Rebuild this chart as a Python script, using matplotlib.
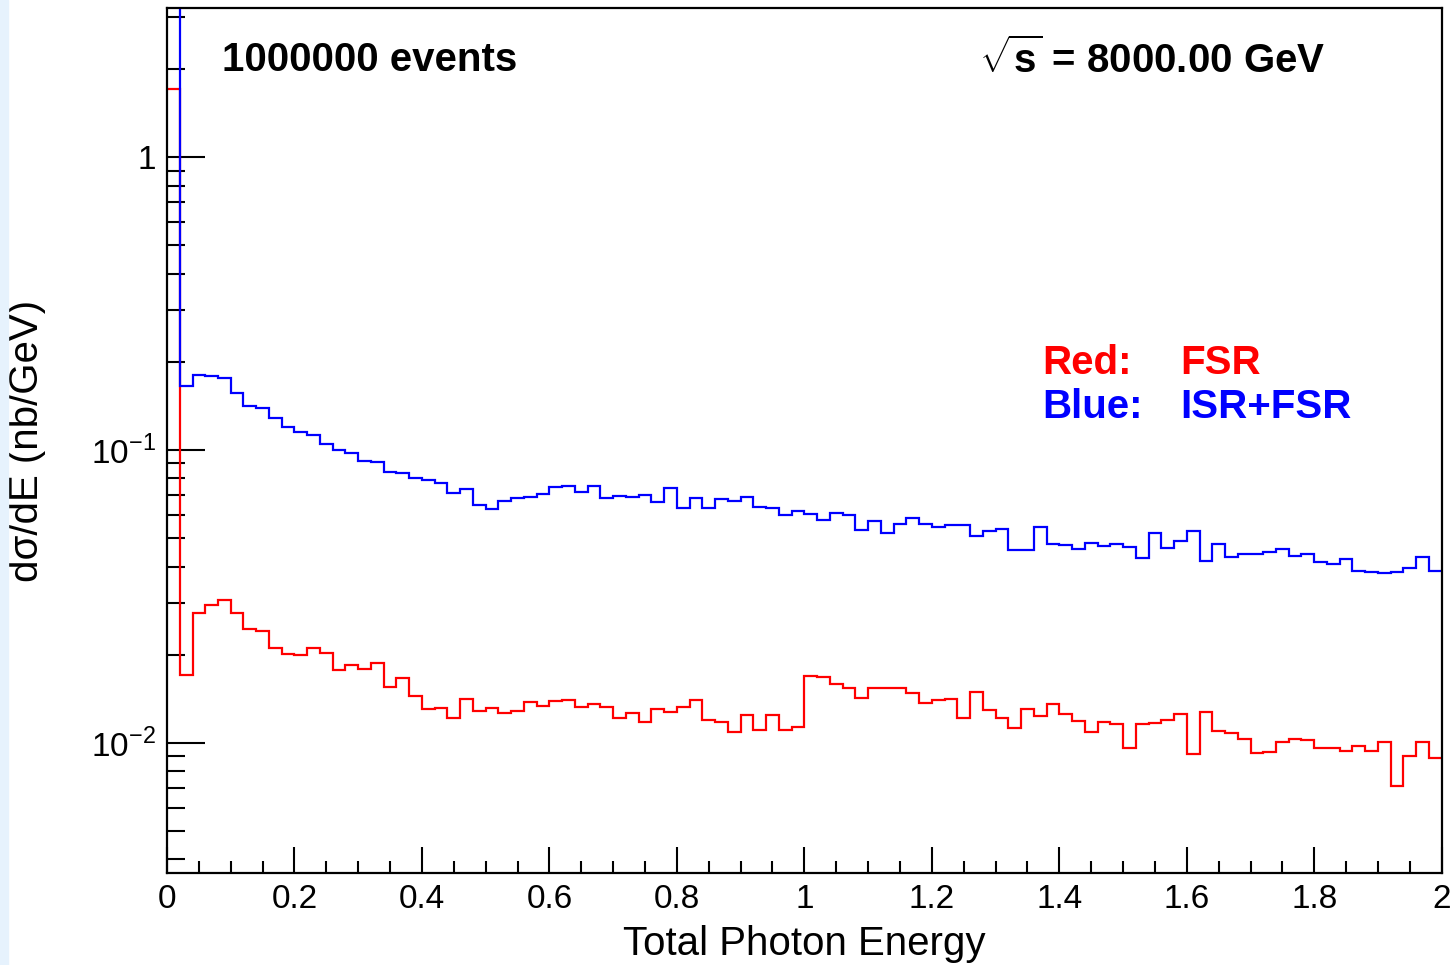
import numpy as np
import matplotlib
matplotlib.use('Agg')
import matplotlib.pyplot as plt
from matplotlib.patches import Rectangle
from matplotlib.ticker import FixedLocator, FuncFormatter, LogLocator, MultipleLocator

plt.rcParams['font.family'] = ['Liberation Sans', 'DejaVu Sans']
plt.rcParams['mathtext.fontset'] = 'custom'
plt.rcParams['mathtext.rm'] = 'Liberation Sans'
plt.rcParams['mathtext.bf'] = 'Liberation Sans:bold'

# 100 bins of 0.02 GeV between 0 and 2
edges = np.linspace(0.0, 2.0, 101)

# ISR+FSR (blue)
isr_fsr = [
    4.0, 0.1660, 0.1809, 0.1785, 0.1767, 0.1562, 0.1417, 0.1392, 0.1282, 0.1199,
    0.1155, 0.1128, 0.1051, 0.1002, 0.0977, 0.0919, 0.0907, 0.0838, 0.0832, 0.0800,
    0.0791, 0.0771, 0.0713, 0.0735, 0.0648, 0.0628, 0.0669, 0.0687, 0.0691, 0.0705,
    0.0747, 0.0753, 0.0720, 0.0756, 0.0687, 0.0698, 0.0692, 0.0700, 0.0664, 0.0743,
    0.0636, 0.0687, 0.0636, 0.0680, 0.0671, 0.0692, 0.0641, 0.0635, 0.0601, 0.0617,
    0.0604, 0.0577, 0.0609, 0.0599, 0.0535, 0.0572, 0.0522, 0.0560, 0.0587, 0.0560,
    0.0547, 0.0555, 0.0555, 0.0507, 0.0528, 0.0537, 0.0457, 0.0457, 0.0544, 0.0476,
    0.0473, 0.0460, 0.0483, 0.0469, 0.0479, 0.0467, 0.0429, 0.0519, 0.0461, 0.0490,
    0.0528, 0.0418, 0.0476, 0.0432, 0.0441, 0.0443, 0.0447, 0.0459, 0.0435, 0.0443,
    0.0413, 0.0407, 0.0423, 0.0387, 0.0383, 0.0380, 0.0384, 0.0396, 0.0432, 0.0387,
]

# FSR only (red)
fsr = [
    1.71, 0.0170, 0.0277, 0.0295, 0.0308, 0.0278, 0.0244, 0.0240, 0.0211, 0.0201,
    0.0200, 0.0211, 0.0202, 0.0177, 0.0184, 0.0179, 0.0187, 0.0155, 0.0166, 0.0145,
    0.0130, 0.0132, 0.0122, 0.0141, 0.0128, 0.0132, 0.0126, 0.0128, 0.0138, 0.0134,
    0.0139, 0.0140, 0.0133, 0.0136, 0.0133, 0.0122, 0.0126, 0.0118, 0.0130, 0.0127,
    0.0133, 0.0140, 0.0120, 0.0118, 0.0109, 0.0124, 0.0111, 0.0124, 0.0111, 0.0113,
    0.0169, 0.0168, 0.0159, 0.0154, 0.0142, 0.0154, 0.0154, 0.0154, 0.0148, 0.0137,
    0.0140, 0.0141, 0.0122, 0.0149, 0.0129, 0.0122, 0.0112, 0.0130, 0.0123, 0.0136,
    0.0125, 0.0119, 0.0109, 0.0118, 0.0116, 0.00957, 0.0116, 0.0117, 0.0120, 0.0125,
    0.00913, 0.0127, 0.0110, 0.0108, 0.0103, 0.00924, 0.00931, 0.0101, 0.0103, 0.0102,
    0.00959, 0.00957, 0.00939, 0.00974, 0.00935, 0.0101, 0.00710, 0.00901, 0.0101, 0.00889,
]

n_events = 1000000
sqrt_s = 8000.0

fig = plt.figure(figsize=(14.51, 9.65), dpi=100, facecolor='w')
fig.patches.append(Rectangle((0, 0), 0.0055, 1, transform=fig.transFigure,
                             color='#e6f2fd', zorder=0))
ax = fig.add_axes([0.1151, 0.0950, 0.8785, 0.8967])

ax.stairs(fsr, edges, baseline=None, color='#ff0000', lw=1.6, zorder=2)
ax.stairs(isr_fsr, edges, baseline=None, color='#0000ff', lw=1.6, zorder=3)

ax.set_yscale('log')
ax.set_xlim(0, 2)
ax.set_ylim(0.003584, 3.23)

ax.xaxis.set_major_locator(MultipleLocator(0.2))
ax.xaxis.set_minor_locator(MultipleLocator(0.05))
ax.xaxis.set_major_formatter(FuncFormatter(lambda v, p: f'{v:g}'))
ax.yaxis.set_major_locator(FixedLocator([0.01, 0.1, 1.0]))
ax.yaxis.set_minor_locator(LogLocator(base=10, subs=np.arange(2, 10)))
ax.yaxis.set_minor_formatter(FuncFormatter(lambda v, p: ''))


def ylab(v, pos):
    if abs(v - 1.0) < 1e-9:
        return '1'
    return r'$10^{%d}$' % int(round(np.log10(v)))


ax.yaxis.set_major_formatter(FuncFormatter(ylab))

ax.tick_params(axis='both', which='both', direction='in', width=1.5,
               top=False, right=False, labelsize=24, colors='k')
ax.tick_params(axis='x', which='major', length=18.5, pad=8)
ax.tick_params(axis='x', which='minor', length=8.6)
ax.tick_params(axis='y', which='major', length=27.4, pad=8)
ax.tick_params(axis='y', which='minor', length=13)
for s in ax.spines.values():
    s.set_linewidth(1.6)
    s.set_zorder(5)

ax.set_xlabel('Total Photon Energy', fontsize=29, labelpad=7)
ax.set_ylabel('d\u03c3/dE (nb/GeV)', fontsize=29, labelpad=32)

ax.text(0.043, 0.94, f'{n_events} events', transform=ax.transAxes,
        fontsize=29, fontweight='bold', va='center', ha='left')
ax.text(0.9087, 0.94, r'$\sqrt{\mathbf{s}}$' + f' = {sqrt_s:.2f} GeV', transform=ax.transAxes,
        fontsize=29, fontweight='bold', va='center', ha='right')

ax.text(0.687, 0.59, 'Red:', transform=ax.transAxes, fontsize=29,
        fontweight='bold', color='#ff0000', va='center')
ax.text(0.795, 0.59, 'FSR', transform=ax.transAxes, fontsize=29,
        fontweight='bold', color='#ff0000', va='center')
ax.text(0.687, 0.539, 'Blue:', transform=ax.transAxes, fontsize=29,
        fontweight='bold', color='#0000ff', va='center')
ax.text(0.795, 0.539, 'ISR+FSR', transform=ax.transAxes, fontsize=29,
        fontweight='bold', color='#0000ff', va='center')

fig.savefig('out.png', dpi=100, facecolor='w')
